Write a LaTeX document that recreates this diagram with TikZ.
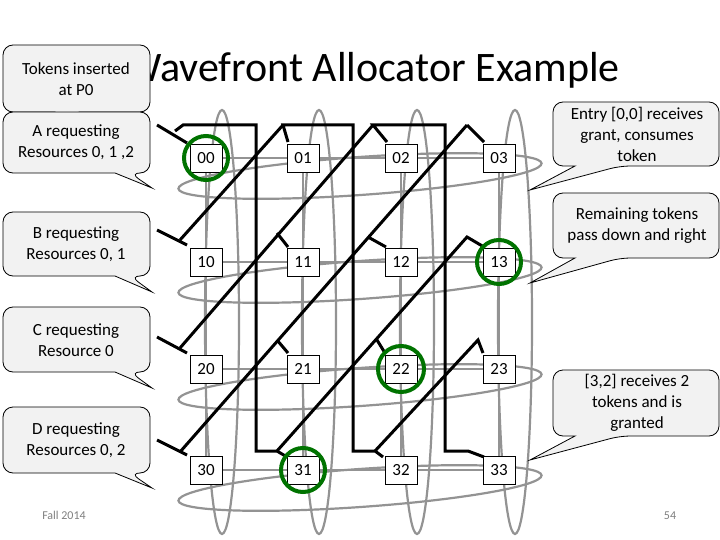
\documentclass[tikz,border=0pt]{standalone}
\usepackage{fontspec}
\setmainfont{Carlito}
\begin{document}
\begin{tikzpicture}[x=1pt,y=-1pt,
  cell/.style={draw=black,fill=white,line width=0.8pt,minimum width=32pt,minimum height=28pt,inner sep=0pt,font=\fontsize{17}{20}\selectfont},
  grant/.style={draw=green!45!black,line width=4pt,circle,minimum size=44pt,inner sep=0pt},
  loop/.style={draw=gray!85,line width=2.2pt},
  wire/.style={draw=black,line width=3pt,line join=miter},
  bub/.style={draw=black,fill=gray!10,line width=0.8pt,rounded corners=10pt},
  btxt/.style={align=center,font=\fontsize{17}{21}\selectfont},
  foot/.style={font=\fontsize{12}{14}\selectfont,text=gray,anchor=base}]
\useasboundingbox (0,0) rectangle (720,540);
\fill[white] (0,0) rectangle (720,540);
\node[anchor=base east,inner sep=0pt,font=\fontsize{42}{48}\selectfont] (title) at (620,82) {Wavefront Allocator Example};
% gray loops
\foreach \x in {206,303,401,499}{
  \draw[loop] (\x+16,322) ellipse[x radius=17,y radius=212];
  \draw[loop] (\x,158) -- (\x,470);}
\foreach \y in {158,262,369,470}{
  \draw[loop,rotate around={4:(360,\y+18)}] (360,\y+18) ellipse[x radius=182,y radius=19];
  \draw[loop] (206,\y) -- (499,\y);}
% black wires
\draw[wire] (157,125)--(187,143);
\draw[wire] (157,230)--(187,245);
\draw[wire] (157,337)--(187,353);
\draw[wire] (157,440)--(187,455);
\draw[wire] (175,131)--(183,125)--(256,125)--(256,451)--(277,451)--(287,457);
\draw[wire] (288,142)--(283,125)--(353,125)--(353,451)--(375,451)--(383,457);
\draw[wire] (387,142)--(373,125)--(445,125)--(445,451)--(468,451)--(484,457);
\draw[wire] (484,142)--(467,125);
\draw[wire] (180,240)--(283,125);
\draw[wire] (180,348)--(373,125);
\draw[wire] (180,452)--(467,125);
\draw[wire] (277,451)--(467,237)--(484,247);
\draw[wire] (375,451)--(478,340)--(483,353);
\draw[wire] (277,233)--(288,247);
\draw[wire] (277,340)--(288,353);
\draw[wire] (368,237)--(386,247);
\draw[wire] (377,340)--(385,353);
% cells
\foreach \r/\y in {0/158,1/262,2/369,3/470}{
  \foreach \c/\x in {0/206,1/303,2/401,3/499}{
    \node[cell] (n\r\c) at (\x,\y) {\r\c};}}
\node[grant] (g00) at (n00) {};
\node[grant] (g13) at (n13) {};
\node[grant,minimum size=46pt] (g22) at (n22) {};
\node[grant] (g31) at (n31) {};
% bubbles
\draw[bub] (3,112) -- (3,45) -- (150,45) -- (150,112) -- (70,112) [sharp corners]-- (70,124) -- (55,112) [rounded corners=10pt]-- cycle;
\node[btxt] (t0) at (76,79) {Tokens inserted\\at P0};
\draw[bub] (3,173) -- (3,112) -- (150,112) -- (150,173) -- (130,173) [sharp corners]-- (152,188) -- (115,173) [rounded corners=10pt]-- cycle;
\node[btxt] (tA) at (76,142) {A requesting\\Resources 0, 1 ,2};
\draw[bub] (3,276) -- (3,212) -- (150,212) -- (150,276) -- (130,276) [sharp corners]-- (152,292) -- (115,276) [rounded corners=10pt]-- cycle;
\node[btxt] (tB) at (76,244) {B requesting\\Resources 0, 1};
\draw[bub] (3,372) -- (3,307) -- (150,307) -- (150,372) -- (130,372) [sharp corners]-- (152,388) -- (115,372) [rounded corners=10pt]-- cycle;
\node[btxt] (tC) at (76,340) {C requesting\\Resource 0};
\draw[bub] (3,473) -- (3,407) -- (150,407) -- (150,473) -- (130,473) [sharp corners]-- (152,488) -- (115,473) [rounded corners=10pt]-- cycle;
\node[btxt] (tD) at (76,440) {D requesting\\Resources 0, 2};
\draw[bub] (553,166) -- (553,102) -- (719,102) -- (719,166) -- (620,166) [sharp corners]-- (530,190) -- (575,166) [rounded corners=10pt]-- cycle;
\node[btxt] (tE) at (637,134) {Entry [0,0] receives\\grant, consumes\\token};
\draw[bub] (553,258) -- (553,193) -- (719,193) -- (719,258) -- (620,258) [sharp corners]-- (530,283) -- (575,258) [rounded corners=10pt]-- cycle;
\node[btxt] (tR) at (637,226) {Remaining tokens\\pass down and right};
\draw[bub] (553,436) -- (553,370) -- (719,370) -- (719,436) -- (620,436) [sharp corners]-- (530,460) -- (575,436) [rounded corners=10pt]-- cycle;
\node[btxt] (tG) at (637,403) {[3,2] receives 2\\tokens and is\\granted};
\node[foot] (f1) at (64,519) {Fall 2014};
\node[foot] (f2) at (670,519) {54};
\end{tikzpicture}
\end{document}
